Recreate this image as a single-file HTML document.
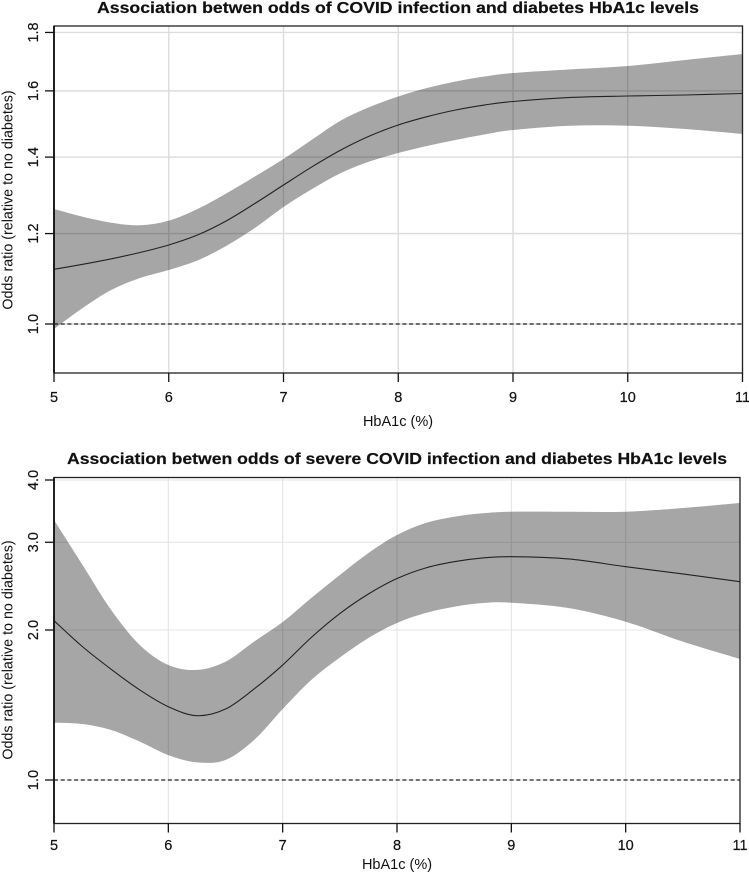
<!DOCTYPE html>
<html lang="en">
<head>
<meta charset="utf-8">
<title>Association between odds of COVID infection and diabetes HbA1c levels</title>
<style>
html,body{margin:0;padding:0;background:#fff;width:749px;height:877px;overflow:hidden}
svg{display:block;filter:blur(.35px)}
text{font-family:"Liberation Sans",Arial,sans-serif;fill:#111}
</style>
</head>
<body>
<svg id="figure" width="749" height="877" viewBox="0 0 749 877" xmlns="http://www.w3.org/2000/svg"></svg>
<script>
// X positions (HbA1c %) of the readings in each series
const covidX = [5,5.25,5.5,5.75,6,6.25,6.5,6.75,7,7.25,7.5,7.75,8,8.25,8.5,8.75,9,9.5,10,10.5,11];
const severeX = [5,5.25,5.5,5.75,6,6.25,6.5,6.75,7,7.25,7.5,7.75,8,8.25,8.5,8.75,9,9.5,10,10.5,11];

// Panel 1: odds of COVID infection
const covidOr = [1.1166,1.1279,1.1405,1.1551,1.1727,1.1965,1.2308,1.2750,1.3234,1.3732,1.4202,1.4608,1.4936,1.5188,1.5395,1.5550,1.5661,1.5789,1.5836,1.5868,1.5916];
const covidUpper = [1.2609,1.2415,1.2266,1.2202,1.2316,1.2609,1.3010,1.3463,1.3947,1.4506,1.5073,1.5488,1.5820,1.6093,1.6305,1.6470,1.6587,1.6710,1.6824,1.7029,1.7235];
const covidLower = [0.990,1.0328,1.0711,1.0972,1.1150,1.1366,1.1703,1.2135,1.2660,1.3128,1.3558,1.3876,1.4117,1.4317,1.4492,1.4653,1.4787,1.4915,1.4915,1.4816,1.4668];

// Panel 2: odds of severe COVID infection
const severeOr = [2.088,1.851,1.668,1.516,1.403,1.346,1.388,1.523,1.701,1.932,2.158,2.362,2.537,2.664,2.742,2.790,2.806,2.777,2.680,2.591,2.500];
const severeUpper = [3.325,2.701,2.194,1.866,1.701,1.663,1.727,1.895,2.075,2.319,2.579,2.855,3.102,3.279,3.376,3.430,3.455,3.455,3.455,3.515,3.597];
const severeLower = [1.303,1.295,1.260,1.194,1.122,1.085,1.097,1.203,1.388,1.587,1.761,1.928,2.066,2.163,2.227,2.266,2.269,2.214,2.078,1.895,1.749];

// Tick labels
const xTicks = [5,6,7,8,9,10,11];
const covidYTicks = [1.0,1.2,1.4,1.6,1.8];
const severeYTicks = [1.0,2.0,3.0,4.0];
const referenceOr = 1.0;

const covidTitle = "Association betwen odds of COVID infection and diabetes HbA1c levels";
const severeTitle = "Association betwen odds of severe COVID infection and diabetes HbA1c levels";
const xTitle = "HbA1c (%)";
const yTitle = "Odds ratio (relative to no diabetes)";

const NS = "http://www.w3.org/2000/svg";
const root = document.getElementById("figure");

function mk(parent, tag, props, text) {
  const e = document.createElementNS(NS, tag);
  for (const k in props) e.setAttribute(k, props[k]);
  if (text !== undefined) e.textContent = text;
  parent.appendChild(e);
  return e;
}

// Smooth path through points (Catmull-Rom to Bezier)
function smooth(pts, start) {
  let d = (start ? "M" : "L") + pts[0][0].toFixed(2) + " " + pts[0][1].toFixed(2);
  for (let i = 0; i < pts.length - 1; i++) {
    const p0 = pts[Math.max(0, i - 1)], p1 = pts[i], p2 = pts[i + 1], p3 = pts[Math.min(pts.length - 1, i + 2)];
    const c1x = p1[0] + (p2[0] - p0[0]) / 6, c1y = p1[1] + (p2[1] - p0[1]) / 6;
    const c2x = p2[0] - (p3[0] - p1[0]) / 6, c2y = p2[1] - (p3[1] - p1[1]) / 6;
    d += "C" + c1x.toFixed(2) + " " + c1y.toFixed(2) + " " + c2x.toFixed(2) + " " + c2y.toFixed(2) + " " + p2[0].toFixed(2) + " " + p2[1].toFixed(2);
  }
  return d;
}

function drawPanel(o) {
  const xScale = v => o.x5 + (v - 5) * (o.x11 - o.x5) / 6;
  const yScale = v => o.y1 - Math.log(v) * o.k;

  const g = mk(root, "g", {});
  
  

  const title = mk(g, "text", {x: o.titleX, y: o.titleY, "text-anchor": "middle", "font-weight": "bold", "font-size": 16, "textLength": o.titleLen, "lengthAdjust": "spacingAndGlyphs", stroke: "#111", "stroke-width": 0.2}, o.title);
  
  

  // Grid
  xTicks.forEach(t => {
    const l = mk(g, "line", {x1: xScale(t), x2: xScale(t), y1: o.top, y2: o.bottom, stroke: o.gridColor, "stroke-width": o.gridWidth});
    
    
  });
  o.yTicks.forEach(t => {
    const l = mk(g, "line", {x1: o.x5, x2: o.x11, y1: yScale(t), y2: yScale(t), stroke: o.gridColor, "stroke-width": o.gridWidth});
    
    
  });

  // Confidence band
  const upper = o.xs.map((x, i) => [xScale(x), yScale(o.upper[i])]);
  const lower = o.xs.map((x, i) => [xScale(x), yScale(o.lower[i])]).reverse();
  const band = mk(g, "path", {d: smooth(upper, true) + smooth(lower, false) + "Z", fill: "#000", "fill-opacity": 0.35});
  
  

  // Central estimate
  const mid = o.xs.map((x, i) => [xScale(x), yScale(o.mid[i])]);
  const line = mk(g, "path", {d: smooth(mid, true), fill: "none", stroke: "#222", "stroke-width": 1.1});
  
  

  // Reference
  const ref = mk(g, "line", {x1: o.x5, x2: o.x11, y1: yScale(referenceOr), y2: yScale(referenceOr), stroke: "#222", "stroke-width": 1.2, "stroke-dasharray": "4 2.7"});
  
  

  // Frame
  const frame = mk(g, "rect", {x: o.x5, y: o.top, width: o.x11 - o.x5, height: o.bottom - o.top, fill: "none", stroke: "#222", "stroke-width": 1.3});
  
  
  const yAxis = mk(g, "line", {x1: o.x5, x2: o.x5, y1: o.top, y2: o.bottom, stroke: "#111", "stroke-width": 1.8});
  
  

  // X ticks
  xTicks.forEach(t => {
    const tick = mk(g, "line", {x1: xScale(t), x2: xScale(t), y1: o.bottom, y2: o.bottom + 9, stroke: "#111", "stroke-width": 1.3});
    
    
    const lab = mk(g, "text", {x: xScale(t), y: o.xLabelY, "text-anchor": "middle", "font-size": 14.5, stroke: "#111", "stroke-width": 0.2}, String(t));
    
    
  });

  // Y ticks
  o.yTicks.forEach(t => {
    const y = yScale(t);
    const tick = mk(g, "line", {x1: o.x5 - 9, x2: o.x5, y1: y, y2: y, stroke: "#111", "stroke-width": 1.3});
    
    
    const lab = mk(g, "text", {transform: "translate(38 " + y.toFixed(2) + ") rotate(-90)", "text-anchor": "middle", "font-size": 14.5, stroke: "#111", "stroke-width": 0.2}, t.toFixed(1));
    
    
  });

  const xt = mk(g, "text", {x: o.xTitleX, y: o.xTitleY, "text-anchor": "middle", "font-size": 14.5}, xTitle);
  
  
  const yt = mk(g, "text", {transform: "translate(12.5 " + o.yTitleY + ") rotate(-90)", "text-anchor": "middle", "font-size": 14.3}, yTitle);
  
  
}

drawPanel({
  name: "covid-infection", title: covidTitle, xs: covidX, mid: covidOr, upper: covidUpper, lower: covidLower, yTicks: covidYTicks,
  x5: 54, x11: 742.5, y1: 324, k: 496, top: 26, bottom: 373, gridColor: "#dcdcdc", gridWidth: 1.4,
  titleX: 398, titleY: 13, titleLen: 602, xLabelY: 402,
  xTitleX: 398, xTitleY: 426, yTitleY: 200
});
drawPanel({
  name: "severe-covid", title: severeTitle, xs: severeX, mid: severeOr, upper: severeUpper, lower: severeLower, yTicks: severeYTicks,
  x5: 54, x11: 740, y1: 780, k: 216.4, top: 477.5, bottom: 823.5, gridColor: "#e4e4e4", gridWidth: 1.1,
  titleX: 397, titleY: 464, titleLen: 660, xLabelY: 850,
  xTitleX: 397, xTitleY: 869, yTitleY: 650
});
</script>
</body>
</html>
